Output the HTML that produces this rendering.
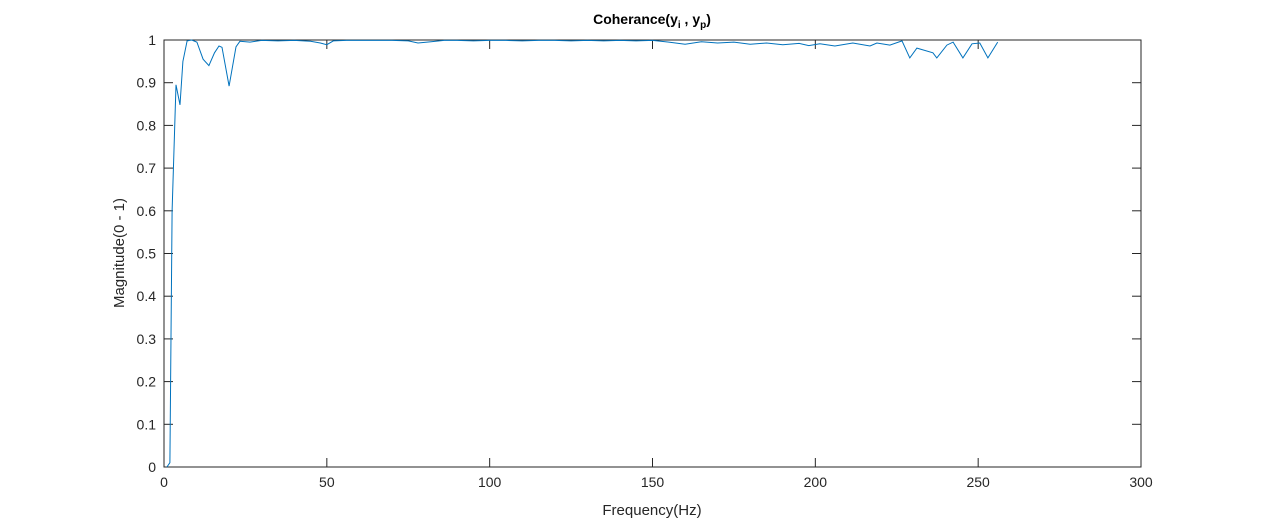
<!DOCTYPE html>
<html><head><meta charset="utf-8"><style>
body{margin:0;background:#fff;}
svg text{font-family:"Liberation Sans",Arial,sans-serif;fill:#262626;}
</style></head><body>
<svg width="1262" height="525" viewBox="0 0 1262 525">
<rect x="0" y="0" width="1262" height="525" fill="#fff"/>
<g id="axes"></g>
<polyline id="line" fill="none" stroke="#0072bd" stroke-width="1"/>
<text x="652" y="24" text-anchor="middle" font-size="14" font-weight="bold" style="fill:#000">Coherance(y<tspan font-size="10" dy="4">i</tspan><tspan dy="-4"> , y</tspan><tspan font-size="10" dy="4">p</tspan><tspan dy="-4">)</tspan></text>
<text x="652" y="515" text-anchor="middle" font-size="15">Frequency(Hz)</text>
<text transform="translate(124,253) rotate(-90)" text-anchor="middle" font-size="15">Magnitude(0 - 1)</text>
</svg>
<script>
const freqs=[0.9,1.8,2.5,3.7,4.9,5.8,7.1,8.5,10.1,12,13.8,15.5,16.9,17.8,20,22.1,23.3,26.4,30,35,40,45,48,50,52,56,60,65,70,75,78,82,86,90,95,100,105,110,115,120,125,130,135,140,145,150,155,160,165,170,175,180,185,190,195,198,201.4,206,211.5,216.8,218.9,222.9,226.6,229,231.2,236.1,237.3,240.4,242.3,245.3,248.1,250.5,253,256];
const mags=[0.0,0.01,0.6,0.895,0.848,0.95,0.998,1.0,0.995,0.955,0.94,0.97,0.986,0.983,0.892,0.984,0.997,0.995,0.999,0.998,0.999,0.997,0.993,0.989,0.998,0.999,0.999,0.999,0.999,0.998,0.993,0.996,0.999,0.999,0.998,0.999,0.999,0.998,0.999,0.999,0.998,0.999,0.998,0.999,0.998,0.999,0.995,0.99,0.996,0.993,0.995,0.99,0.993,0.989,0.992,0.987,0.991,0.986,0.993,0.986,0.993,0.988,0.998,0.958,0.981,0.970,0.958,0.988,0.995,0.958,0.991,0.993,0.958,0.995];
const xTicks=[0,50,100,150,200,250,300];
const yTicks=[0,0.1,0.2,0.3,0.4,0.5,0.6,0.7,0.8,0.9,1];
const L=164,R=1141,T=40,B=467;
const xs=v=>L+(v/300)*(R-L);
const ys=v=>B-v*(B-T);
const NS="http://www.w3.org/2000/svg";
const g=document.getElementById('axes');
function el(t,a){const e=document.createElementNS(NS,t);for(const k in a)e.setAttribute(k,a[k]);g.appendChild(e);return e;}
const box=el('rect',{x:L,y:T,width:R-L,height:B-T,fill:'none',stroke:'#262626','stroke-width':1});


xTicks.forEach(v=>{
  const x=xs(v);
  el('line',{x1:x,y1:B,x2:x,y2:B-9,stroke:'#262626'});
  el('line',{x1:x,y1:T,x2:x,y2:T+9,stroke:'#262626'});
  const t=el('text',{x:x,y:B+20,'text-anchor':'middle','font-size':14});
  t.textContent=v;
  
  
});
yTicks.forEach(v=>{
  const y=ys(v);
  el('line',{x1:L,y1:y,x2:L+9,y2:y,stroke:'#262626'});
  el('line',{x1:R,y1:y,x2:R-9,y2:y,stroke:'#262626'});
  const t=el('text',{x:L-8,y:y+5,'text-anchor':'end','font-size':14});
  t.textContent=v;
  
  
});
document.getElementById('line').setAttribute('points',freqs.map((f,i)=>xs(f).toFixed(1)+','+ys(mags[i]).toFixed(1)).join(' '));
</script>
</body></html>
